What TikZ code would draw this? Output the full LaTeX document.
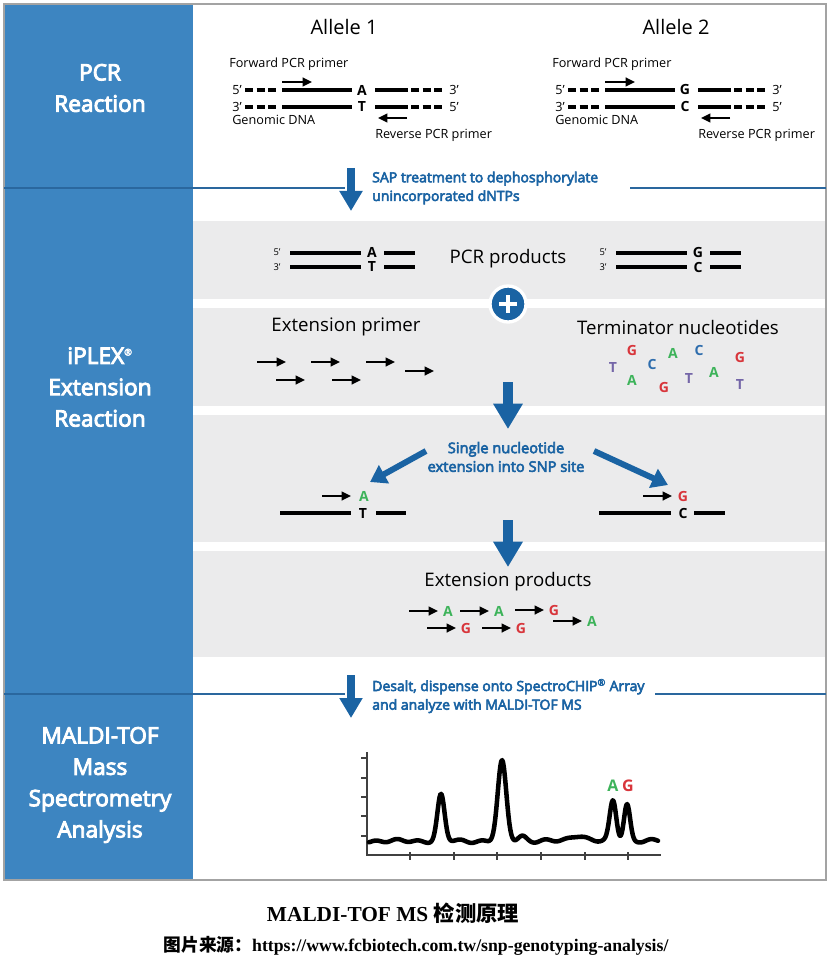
\documentclass[tikz,border=0pt]{standalone}
\usepackage{fontspec}
\setmainfont{Open Sans}
\newfontfamily\semib{Open Sans}[FakeBold=4]
\newfontfamily\capfont{Liberation Serif}
\newfontfamily\cjk{Noto Sans CJK SC}
\usetikzlibrary{arrows.meta}

\definecolor{colblue}{HTML}{3D85C1}
\definecolor{darkblue}{HTML}{1A63A3}
\definecolor{lineblue}{HTML}{2A679E}
\definecolor{bandgrey}{HTML}{EBEBEC}
\definecolor{framegrey}{HTML}{A3A3A3}
\definecolor{ntA}{HTML}{3DB35A}
\definecolor{ntG}{HTML}{D8353B}
\definecolor{ntC}{HTML}{2E6DAD}
\definecolor{ntT}{HTML}{7466A8}

\tikzset{
  coltext/.style={text=white, align=center, inner sep=0pt,
    font=\semib\fontsize{17pt}{23.5pt}\selectfont},
  bluetext/.style={text=darkblue, align=left, inner sep=0pt,
    font=\semib\fontsize{10.5pt}{14pt}\selectfont},
  small/.style={inner sep=0pt, font=\fontsize{9.5pt}{11pt}\selectfont},
  tiny/.style={inner sep=0pt, font=\fontsize{7pt}{8pt}\selectfont},
  base/.style={inner sep=0pt, font=\bfseries\fontsize{10.5pt}{11pt}\selectfont},
  title/.style={inner sep=0pt, font=\fontsize{14pt}{16pt}\selectfont},
  strand/.style={line width=3pt},
  dashstrand/.style={line width=3pt, dash pattern=on 6pt off 2.8pt},
  primer/.style={line width=1.6pt, -{Triangle[width=6.5pt,length=7pt]}},
  saparrow/.style={draw=darkblue, line width=6pt, -{Triangle[width=16.5pt,length=15pt]}},
  bandarrow/.style={draw=darkblue, line width=7.5pt, -{Triangle[width=21pt,length=19pt]}},
  diagarrow/.style={draw=darkblue, line width=4.5pt, -{Triangle[width=15pt,length=12pt]}},
  sepline/.style={draw=lineblue, line width=1.1pt},
  spectrum/.style={line width=3.4pt, line join=round, line cap=round},
  axis/.style={draw=black!75, line width=0.8pt}
}

\begin{document}
\begin{tikzpicture}[x=0.75pt,y=-0.75pt]
  \useasboundingbox (0,0) rectangle (832,962);

  % frame, column, bands
  \fill[colblue] (4,4) rectangle (193,880);
  \fill[bandgrey] (193,221) rectangle (826,299);
  \fill[bandgrey] (193,308) rectangle (826,406);
  \fill[bandgrey] (193,415) rectangle (826,542);
  \fill[bandgrey] (193,551) rectangle (826,657);
  \draw[framegrey, line width=1.5pt] (4,4) rectangle (826,880);

  \node[coltext] (pcrcol) at (100,88) {PCR\\Reaction};
  \node[coltext] (iplexcol) at (100,387) {iPLEX\textsuperscript{\scriptsize ®}\\Extension\\Reaction};
  \node[coltext] (maldicol) at (100,785) {MALDI-TOF\\Mass\\Spectrometry\\Analysis};

  % PCR reaction
  \node[inner sep=0pt, font=\fontsize{15pt}{17pt}\selectfont] (allele1) at (344,27) {Allele 1};
  \node[inner sep=0pt, font=\fontsize{15pt}{17pt}\selectfont] (allele2) at (676,27) {Allele 2};

  \foreach \dx/\up/\dn in {0/A/T, 323/G/C}{
    \node[small, anchor=west] (fwd\dx) at (229+\dx,64) {Forward PCR primer};
    \draw[primer] (282+\dx,82) -- (312+\dx,82);
    \node[small] (fiveA\dx) at (237+\dx,90) {5’};
    \draw[dashstrand] (245+\dx,90) -- (278+\dx,90);
    \draw[strand] (282+\dx,90) -- (352+\dx,90);
    \node[base] (up\dx) at (362+\dx,90) {\up};
    \draw[strand] (375+\dx,90) -- (408+\dx,90);
    \draw[dashstrand] (411+\dx,90) -- (444+\dx,90);
    \node[small] (threeA\dx) at (454+\dx,90) {3’};
    \node[small] (threeB\dx) at (237+\dx,107) {3’};
    \draw[dashstrand] (245+\dx,107) -- (278+\dx,107);
    \draw[strand] (282+\dx,107) -- (352+\dx,107);
    \node[base] (dn\dx) at (362+\dx,107) {\dn};
    \draw[strand] (375+\dx,107) -- (408+\dx,107);
    \draw[dashstrand] (411+\dx,107) -- (444+\dx,107);
    \node[small] (fiveB\dx) at (454+\dx,107) {5’};
    \draw[primer] (407+\dx,118) -- (378+\dx,118);
    \node[small, anchor=west] (gdna\dx) at (232+\dx,120) {Genomic DNA};
    \node[small, anchor=west] (rev\dx) at (375+\dx,135) {Reverse PCR primer};
  }

  % SAP step
  \draw[sepline] (4,188) -- (345,188);
  \draw[sepline] (630,188) -- (826,188);
  \coordinate (saptop) at (351,168);
  \coordinate (saptip) at (351,211);
  \draw[saparrow] (saptop) -- (saptip);
  \node[bluetext, anchor=west] (sap) at (372,188) {SAP treatment to dephosphorylate\\unincorporated dNTPs};

  % PCR products
  \foreach \dx/\up/\dn in {0/A/T, 326/G/C}{
    \node[tiny] (pfive\dx) at (277+\dx,252) {5’};
    \node[tiny] (pthree\dx) at (277+\dx,267) {3’};
    \draw[strand] (290+\dx,253) -- (361+\dx,253);
    \draw[strand] (290+\dx,267) -- (361+\dx,267);
    \node[base] (pup\dx) at (372+\dx,252) {\up};
    \node[base] (pdn\dx) at (372+\dx,267) {\dn};
    \draw[strand] (384+\dx,253) -- (415+\dx,253);
    \draw[strand] (384+\dx,267) -- (415+\dx,267);
  }
  \node[title] (pcrprod) at (508,259) {PCR products};

  \node[circle, fill=darkblue, draw=white, line width=2.5pt, minimum size=27pt] (plus) at (508,304) {};
  \draw[white, line width=3pt] (499,304) -- (517,304);
  \draw[white, line width=3pt] (508,295) -- (508,313);

  % extension primer + terminators
  \node[title] (extprimer) at (346,327) {Extension primer};
  \node[title] (termnt) at (678,327) {Terminator nucleotides};
  \foreach \xa/\ya in {257/362, 311/362, 366/362, 405/371, 276/380, 332/380}
    \draw[primer] (\xa,\ya) -- ++(29,0);
  \foreach \nx/\ny/\nt in {613/368/T, 632/350/G, 652/364/C, 632/380/A, 673/353/A,
      699/350/C, 664/387/G, 689/379/T, 714/372/A, 740/357/G, 740/385/T}
    \node[base, text=nt\nt] (nt\nx) at (\nx,\ny) {\nt};

  \coordinate (aonetop) at (508,382);
  \coordinate (aonetip) at (508,429);
  \draw[bandarrow] (aonetop) -- (aonetip);

  % single nucleotide extension
  \node[bluetext, align=center, font=\semib\fontsize{11pt}{14pt}\selectfont] (snp) at (506,457) {Single nucleotide\\extension into SNP site};
  \coordinate (snpltail) at (426,451);
  \coordinate (snpltip) at (370,482);
  \coordinate (snprtail) at (594,451);
  \coordinate (snprtip) at (668,485);
  \draw[diagarrow] (snpltail) -- (snpltip);
  \draw[diagarrow] (snprtail) -- (snprtip);

  \draw[primer] (322,496) -- (351,496);
  \node[base, text=ntA] (extA) at (364,496) {A};
  \draw[strand] (280,513) -- (351,513);
  \node[base] (tmplT) at (363,513) {T};
  \draw[strand] (376,513) -- (406,513);

  \draw[primer] (643,496) -- (672,496);
  \node[base, text=ntG] (extG) at (683,496) {G};
  \draw[strand] (599,513) -- (671,513);
  \node[base] (tmplC) at (683,513) {C};
  \draw[strand] (694,513) -- (725,513);

  \coordinate (atwotop) at (508,520);
  \coordinate (atwotip) at (508,567);
  \draw[bandarrow] (atwotop) -- (atwotip);

  % extension products
  \node[title] (extprod) at (508,582) {Extension products};
  \foreach \xa/\ya/\nt in {409/611/A, 460/611/A, 515/610/G, 427/628/G, 482/628/G, 553/621/A}{
    \draw[primer] (\xa,\ya) -- ++(29,0);
    \node[base, text=nt\nt] (prod\xa) at (\xa+39,\ya) {\nt};
  }

  % desalt step
  \draw[sepline] (4,694) -- (345,694);
  \draw[sepline] (655,694) -- (826,694);
  \coordinate (destop) at (351,675);
  \coordinate (destip) at (351,718);
  \draw[saparrow] (destop) -- (destip);
  \node[bluetext, anchor=west] (desalt) at (372,696) {Desalt, dispense onto SpectroCHIP\textsuperscript{\scriptsize ®} Array\\and analyze with MALDI-TOF MS};

  % mass spectrum
  \draw[axis] (367,752) -- (367,855) -- (661,855);
  \foreach \ty in {758,778,797,816,836}
    \draw[axis] (361,\ty) -- (367,\ty);
  \foreach \tx in {410,454,497,541,585,628}
    \draw[axis] (\tx,852) -- (\tx,860);
  \draw[spectrum, declare function={pk(\t,\c,\w)=exp(-((\t-\c)/\w)*((\t-\c)/\w));}]
    plot[domain=369:658, samples=320] (\x, {841 - 46*pk(\x,441,5) - 79*pk(\x,502,6)
      - 40*pk(\x,613,4.6) - 37*pk(\x,627,4.3) - 5*pk(\x,522,6) - 6*pk(\x,578,10)
      + 1.2*sin(17*\x) + 0.8*sin(7*\x)});
  \node[base, text=ntA, font=\bfseries\fontsize{12pt}{13pt}\selectfont] (peakA) at (613,786) {A};
  \node[base, text=ntG, font=\bfseries\fontsize{12pt}{13pt}\selectfont] (peakG) at (628,786) {G};

  % caption
  \node[inner sep=0pt, font=\capfont\bfseries\fontsize{16pt}{18pt}\selectfont] (cap) at (393,913) {MALDI-TOF MS {\cjk 检测原理}};
  \node[inner sep=0pt, font=\capfont\bfseries\fontsize{13.3pt}{15pt}\selectfont] (source) at (416,946) {{\cjk 图片来源：}https://www.fcbiotech.com.tw/snp-genotyping-analysis/};
\end{tikzpicture}
\end{document}
